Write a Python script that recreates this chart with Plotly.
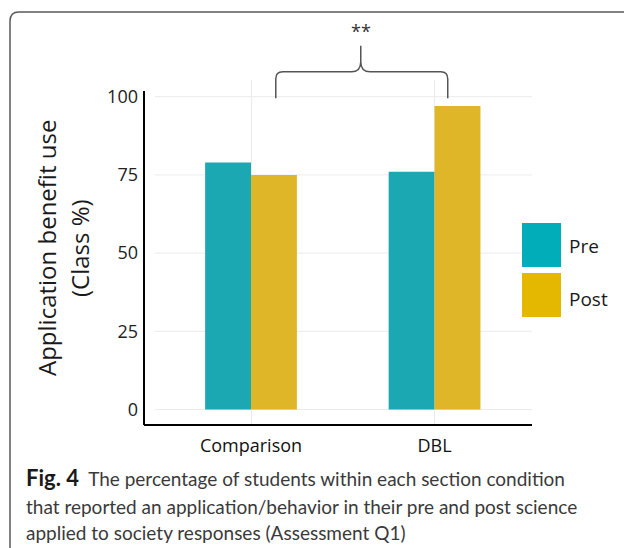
import plotly.graph_objects as go

# ---------------- data ----------------
categories = ["Comparison", "DBL"]
pre_values = [79, 76]
post_values = [75, 97]
series_names = ["Pre", "Post"]
y_tick_values = [0, 25, 50, 75, 100]
y_tick_labels = ["0", "25", "50", "75", "100"]
significance_label = "**"
y_title_lines = ["Application benefit use", "(Class %)"]
caption_bold = "Fig. 4"
caption_lines = [
    "The percentage of students within each section condition",
    "that reported an application/behavior in their pre and post science",
    "applied to society responses (Assessment Q1)",
]

# ---------------- style ----------------
W, H = 624, 548
L, R, T, B = 144, 92, 80, 124
PW, PH = W - L - R, H - T - B
XR = [-0.583, 1.531]
YR = [-4.64, 105.34]
PRE_BAR = "#1ba8b3"
POST_BAR = "#deb628"
PRE_LEG = "#00adb9"
POST_LEG = "#e5b800"
GRID = "#ebebeb"
FONT = "Open Sans"


def xp(v):
    return (v - XR[0]) / (XR[1] - XR[0])


def yp(v):
    return (v - YR[0]) / (YR[1] - YR[0])


def pxx(px):
    return (px - L) / PW


def pxy(py):
    return (H - B - py) / PH


x_pos = list(range(len(categories)))

fig = go.Figure()
fig.add_trace(go.Bar(x=x_pos, y=pre_values, name=series_names[0],
                     marker=dict(color=PRE_BAR, line=dict(width=0))))
fig.add_trace(go.Bar(x=x_pos, y=post_values, name=series_names[1],
                     marker=dict(color=POST_BAR, line=dict(width=0))))

shapes = []
# horizontal gridlines
for v in y_tick_values:
    shapes.append(dict(type="line", xref="paper", yref="paper",
                       x0=pxx(155), x1=1, y0=yp(v), y1=yp(v),
                       line=dict(color=GRID, width=1), layer="below"))
# y axis line (offset style)
shapes.append(dict(type="line", xref="paper", yref="paper",
                   x0=0, x1=0, y0=pxy(425), y1=yp(101.8),
                   line=dict(color="black", width=2)))

# significance bracket (data coords -> paper)
bx_l, bx_r, bx_c = 0.135, 1.072, 0.598
by_b, by_h, by_p = 99.5, 108.0, 116.3
rx, ry = 0.038, 2.3
cx, cy = 0.05, 3.2
pts = lambda x, y: f"{xp(x):.5f},{yp(y):.5f}"
path = (
    f"M {pts(bx_l, by_b)} L {pts(bx_l, by_h - ry)} "
    f"Q {pts(bx_l, by_h)} {pts(bx_l + rx, by_h)} "
    f"L {pts(bx_c - cx, by_h)} Q {pts(bx_c, by_h)} {pts(bx_c, by_h + cy)} "
    f"L {pts(bx_c, by_p)} L {pts(bx_c, by_h + cy)} "
    f"Q {pts(bx_c, by_h)} {pts(bx_c + cx, by_h)} "
    f"L {pts(bx_r - rx, by_h)} Q {pts(bx_r, by_h)} {pts(bx_r, by_h - ry)} "
    f"L {pts(bx_r, by_b)}"
)
shapes.append(dict(type="path", xref="paper", yref="paper", path=path,
                   line=dict(color="#555555", width=1.5)))

# custom legend squares
leg_colors = [PRE_LEG, POST_LEG]
leg_tops = [223, 273]
for c, tp in zip(leg_colors, leg_tops):
    shapes.append(dict(type="rect", xref="paper", yref="paper",
                       x0=pxx(522), x1=pxx(561), y0=pxy(tp), y1=pxy(tp + 44),
                       fillcolor=c, line=dict(width=0)))

# rounded outer frame
r = 9
frame = (f"M {pxx(10):.5f},{pxy(560):.5f} L {pxx(10):.5f},{pxy(12 + r):.5f} "
         f"Q {pxx(10):.5f},{pxy(12):.5f} {pxx(10 + r):.5f},{pxy(12):.5f} "
         f"L {pxx(640):.5f},{pxy(12):.5f}")
shapes.append(dict(type="path", xref="paper", yref="paper", path=frame,
                   line=dict(color="#5a5a5a", width=1.5)))

annotations = []
annotations.append(dict(text=significance_label, xref="paper", yref="paper",
                        x=xp(bx_c), y=yp(121.1), showarrow=False,
                        xanchor="center", yanchor="middle",
                        font=dict(family=FONT, size=18, color="#333333")))
# y title lines
for txt, xc in zip(y_title_lines, [46, 79]):
    annotations.append(dict(text=txt, xref="paper", yref="paper",
                            x=pxx(xc), y=pxy(248), textangle=-90,
                            showarrow=False, xanchor="center", yanchor="middle",
                            font=dict(family=FONT, size=24, color="#1a1a1a")))
# legend labels
for name, yc in zip(series_names, [246, 299]):
    annotations.append(dict(text=name, xref="paper", yref="paper",
                            x=pxx(567), y=pxy(yc), showarrow=False,
                            xanchor="left", yanchor="middle",
                            font=dict(family=FONT, size=19, color="#1a1a1a")))
# caption
cap_font = "Lato"
cap_y = [477, 506, 532]
for i, (line, yc) in enumerate(zip(caption_lines, cap_y)):
    if i == 0:
        txt = (f'<span style="font-size:22px;color:#1a1a1a"><b>{caption_bold}</b></span>'
               f'&nbsp;&nbsp;{line}')
    else:
        txt = line
    annotations.append(dict(text=txt, xref="paper", yref="paper",
                            x=pxx(24), y=pxy(yc), showarrow=False,
                            xanchor="left", yanchor="middle",
                            font=dict(family=cap_font, size=19, color="#3a3a3a")))

fig.update_layout(
    width=W, height=H,
    margin=dict(l=L, r=R, t=T, b=B, pad=0),
    paper_bgcolor="white", plot_bgcolor="white",
    barmode="group", bargap=0.5, bargroupgap=0,
    showlegend=False,
    shapes=shapes, annotations=annotations,
    font=dict(family=FONT, color="#222222"),
    xaxis=dict(range=XR, tickvals=x_pos, ticktext=categories,
               showgrid=True, gridcolor=GRID, gridwidth=1,
               showline=True, linecolor="black", linewidth=2,
               zeroline=False, ticks="", ticklabelstandoff=4,
               tickfont=dict(family=FONT, size=18, color="#111111")),
    yaxis=dict(range=YR, tickvals=y_tick_values, ticktext=y_tick_labels,
               showgrid=False, showline=False, zeroline=False, ticks="",
               ticklabelstandoff=5,
               tickfont=dict(family=FONT, size=18, color="#222222")),
)

fig.write_html("out.html",
               config={"displayModeBar": False},
               post_script="document.body.style.margin='0';"
                           "document.body.style.overflow='hidden';")
